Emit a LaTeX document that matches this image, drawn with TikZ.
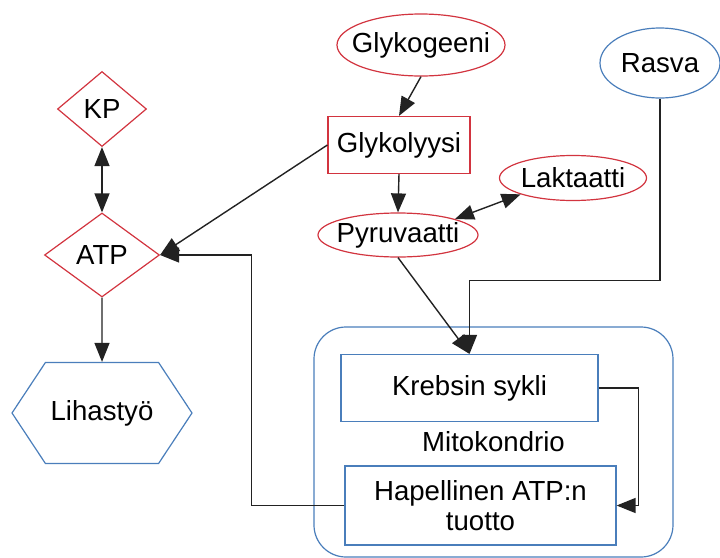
\documentclass[tikz,border=0pt]{standalone}
\usepackage{fontspec}
\setmainfont{Liberation Sans}
\usetikzlibrary{shapes.geometric, shapes.symbols, arrows.meta}
\definecolor{flowred}{HTML}{D2343F}
\definecolor{flowblue}{HTML}{4A7EBB}
\definecolor{linegray}{HTML}{222222}
\newcommand{\nw}[1]{\makebox[0pt]{#1}}

\begin{document}
\begin{tikzpicture}[x=0.5pt, y=-0.5pt,
  every node/.style={font=\fontsize{13.8}{15}\selectfont, inner sep=0pt, line width=0.6pt},
  redell/.style={ellipse, draw=flowred},
  blueell/.style={ellipse, draw=flowblue},
  reddia/.style={diamond, draw=flowred},
  redbox/.style={rectangle, draw=flowred},
  bluebox/.style={rectangle, draw=flowblue},
  arr/.style={draw=linegray, line width=0.7pt, -{Triangle[length=9.5pt, width=7.5pt]}},
  arrboth/.style={draw=linegray, line width=0.7pt, {Triangle[length=9.5pt, width=7.5pt]}-{Triangle[length=9.5pt, width=7.5pt]}}
]
\useasboundingbox (0,0) rectangle (720,558);

% mitochondrion first, boxes on top
\node[bluebox, rounded corners=16pt, minimum width=179.5pt, minimum height=115pt] (mito) at (493.5,442) {Mitokondrio};
\node[bluebox, minimum width=128.5pt, minimum height=33.5pt] (krebs) at (469.5,388) {Krebsin sykli};
\node[bluebox, minimum width=135.5pt, minimum height=39.5pt, align=center] (hapellinen) at (480.5,505.5) {Hapellinen ATP:n\\tuotto};

% left column
\node[reddia, minimum width=44.5pt, minimum height=37.5pt] (kp) at (102,109) {KP};
\node[reddia, minimum width=57.5pt, minimum height=42pt] (atp) at (102,255) {ATP};
\node[signal, signal to=west and east, signal pointer angle=113, draw=flowblue,
  minimum width=90pt, minimum height=50.5pt] (lihas) at (102,413) {Lihastyö};

% sugar path
\node[redell, minimum width=84pt, minimum height=31pt] (glykogeeni) at (421,45) {\nw{Glykogeeni}};
\node[redbox, minimum width=71pt, minimum height=28.5pt] (glykolyysi) at (399,145) {Glykolyysi};
\node[redell, minimum width=80pt, minimum height=22pt] (pyruvaatti) at (398,235) {\nw{Pyruvaatti}};
\node[redell, minimum width=73.5pt, minimum height=22.5pt] (laktaatti) at (573,178) {\nw{Laktaatti}};
\node[blueell, minimum width=60pt, minimum height=35pt] (rasva) at (660,63) {\nw{Rasva}};

% connectors
\draw[arrboth] (kp) -- (atp);
\draw[arr] (atp) -- (lihas);
\draw[arr] (glykolyysi.west) -- (atp.east);
\draw[arr] (hapellinen.west) -- ++(-93,0) |- (atp.east);
\draw[arr] (glykogeeni.south) -- (glykolyysi.north);
\draw[arr] (glykolyysi.south) -- (pyruvaatti.north);
\draw[arrboth] (pyruvaatti.north east) -- (laktaatti.south west);
\draw[arr] (pyruvaatti.south) -- (krebs.north);
\draw[arr] (rasva.south) -- ++(0,182) -| (krebs.north);
\draw[arr] (krebs.east) -- ++(40,0) |- (hapellinen.east);
\end{tikzpicture}
\end{document}
